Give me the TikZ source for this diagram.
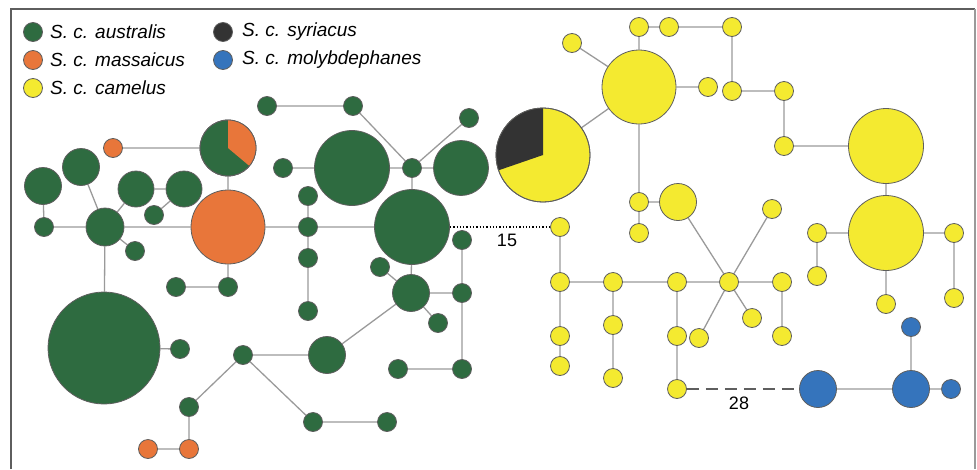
\documentclass[tikz,border=0pt]{standalone}
\usepackage{fontspec}
\setmainfont{Liberation Sans}
\usetikzlibrary{backgrounds}
\definecolor{grn}{HTML}{2E6B40}
\definecolor{org}{HTML}{E8763A}
\definecolor{yel}{HTML}{F4EA30}
\definecolor{blu}{HTML}{3574BC}
\definecolor{blk}{HTML}{333333}
\definecolor{outl}{HTML}{5E5E5E}
\definecolor{edg}{HTML}{9A9A9A}
\tikzset{
  hap/.style={circle, draw=outl, line width=0.8pt, inner sep=0pt, minimum size=#1},
  hap/.default=19,
  gn/.style={hap=#1, fill=grn}, gn/.default=19,
  on/.style={hap=#1, fill=org}, on/.default=19,
  yn/.style={hap=#1, fill=yel}, yn/.default=19,
  bn/.style={hap=#1, fill=blu}, bn/.default=19,
  kn/.style={hap=#1, fill=blk}, kn/.default=19,
  edge/.style={draw=edg, line width=1.3pt},
  legtext/.style={anchor=west, font=\fontsize{19}{22}\selectfont\itshape, inner sep=0pt},
  numlab/.style={font=\fontsize{18}{21}\selectfont, inner sep=0pt}
}
\begin{document}
\begin{tikzpicture}[x=1pt,y=-1pt]
\useasboundingbox (0,0) rectangle (977,469);
% frame
\draw[line width=2pt, color=outl] (11,469) -- (11,9) -- (975,9);
\draw[line width=1.5pt, color=edg] (975,9) -- (975,469);

% legend
\node[gn] (lg1) at (33,32) {};
\node[legtext] (lt1) at (50,32) {S. c. australis};
\node[on] (lg2) at (33,60) {};
\node[legtext] (lt2) at (50,60) {S. c. massaicus};
\node[yn] (lg3) at (33,88) {};
\node[legtext] (lt3) at (50,88) {S. c. camelus};
\node[kn] (lg4) at (223,32) {};
\node[legtext] (lt4) at (242,32) {S. c. syriacus};
\node[bn] (lg5) at (223,60) {};
\node[legtext] (lt5) at (242,60) {S. c. molybdephanes};

% green / orange part
\node[gn=37] (g1) at (43,186) {};
\node[gn=37] (g2) at (81,167) {};
\node[gn=36] (g3) at (136,189) {};
\node[gn=36] (g4) at (184,189) {};
\node[gn] (g5) at (154,215) {};
\node[gn] (g6) at (44,227) {};
\node[gn=38] (g7) at (105,227) {};
\node[gn] (g8) at (135,251) {};
\node[gn=112] (g9) at (104,348) {};
\node[gn] (g10) at (180,349) {};
\node[on=74] (om) at (228,227) {};
\node[gn=56] (pg) at (228,148) {};
\fill[org] (228,148) -- ++(-90:28) arc[start angle=-90, end angle=40, radius=28] -- cycle;
\draw[outl, line width=0.8pt] (228,148) circle[radius=28];
\node[on] (os) at (113,148) {};
\node[gn] (g11) at (176,287) {};
\node[gn] (g12) at (228,287) {};
\node[gn] (g13) at (267,106) {};
\node[gn] (g14) at (353,106) {};
\node[gn] (g15) at (469,118) {};
\node[gn] (g16) at (283,168) {};
\node[gn=75] (g17) at (352,168) {};
\node[gn] (g18) at (412,168) {};
\node[gn=55] (g19) at (461,168) {};
\node[gn=75] (g20) at (412,227) {};
\node[gn] (g21) at (308,196) {};
\node[gn] (g22) at (308,227) {};
\node[gn] (g23) at (308,258) {};
\node[gn] (g24) at (308,311) {};
\node[gn] (g25) at (462,240) {};
\node[gn] (g26) at (462,293) {};
\node[gn] (g27) at (462,369) {};
\node[gn] (g28) at (398,369) {};
\node[gn=37] (g29) at (411,293) {};
\node[gn] (g30) at (380,267) {};
\node[gn] (g31) at (438,323) {};
\node[gn=37] (g32) at (327,355) {};
\node[gn] (g33) at (243,355) {};
\node[gn] (g34) at (189,407) {};
\node[gn] (g35) at (313,422) {};
\node[gn] (g36) at (387,422) {};
\node[on] (o2) at (148,449) {};
\node[on] (o3) at (189,449) {};

% yellow / black / blue part
\node[yn=94] (yp) at (543,155) {};
\fill[blk] (543,155) -- ++(-90:47) arc[start angle=-90, end angle=-199, radius=47] -- cycle;
\draw[outl, line width=0.8pt] (543,155) circle[radius=47];
\node[yn=74] (y1) at (639,87) {};
\node[yn] (y2) at (572,43) {};
\node[yn] (y3) at (639,27) {};
\node[yn] (y4) at (669,27) {};
\node[yn] (y5) at (732,27) {};
\node[yn] (y6) at (708,87) {};
\node[yn] (y7) at (732,91) {};
\node[yn] (y8) at (784,91) {};
\node[yn] (y9) at (784,146) {};
\node[yn=75] (y10) at (886,146) {};
\node[yn=75] (y11) at (886,233) {};
\node[yn] (y12) at (817,233) {};
\node[yn] (y13) at (817,276) {};
\node[yn] (y14) at (954,233) {};
\node[yn] (y15) at (954,298) {};
\node[yn] (y16) at (886,304) {};
\node[yn] (y17) at (639,202) {};
\node[yn=37] (y18) at (678,202) {};
\node[yn] (y19) at (639,233) {};
\node[yn] (y20) at (560,227) {};
\node[yn] (y21) at (560,282) {};
\node[yn] (y22) at (613,282) {};
\node[yn] (y23) at (677,282) {};
\node[yn] (y24) at (729,282) {};
\node[yn] (y25) at (782,282) {};
\node[yn] (y26) at (772,209) {};
\node[yn] (y27) at (560,336) {};
\node[yn] (y28) at (560,366) {};
\node[yn] (y29) at (613,325) {};
\node[yn] (y30) at (613,378) {};
\node[yn] (y31) at (677,336) {};
\node[yn] (y32) at (677,389) {};
\node[yn] (y33) at (699,338) {};
\node[yn] (y34) at (752,318) {};
\node[yn] (y35) at (782,336) {};
\node[bn=37] (b1) at (818,389) {};
\node[bn=37] (b2) at (911,389) {};
\node[bn] (b3) at (911,327) {};
\node[bn] (b4) at (951,389) {};

% labels
\node[numlab] (l15) at (507,240) {15};
\node[numlab] (l28) at (739,403) {28};

\begin{pgfonlayer}{background}
\path[edge]
  (os) -- (pg) (pg) -- (om) (g1) -- (g6) (g2) -- (g7) (g6) -- (g7) (g7) -- (om)
  (g7) -- (g3) (g3) -- (g4) (g5) -- (g4) (g7) -- (g8) (g7) -- (g9) (g9) -- (g10)
  (om) -- (g12) (g11) -- (g12) (om) -- (g22) (g22) -- (g20) (g21) -- (g22)
  (g22) -- (g23) (g23) -- (g24) (g16) -- (g17) (g17) -- (g18) (g18) -- (g19)
  (g18) -- (g20) (g13) -- (g14) (g14) -- (g18) (g15) -- (g18) (g20) -- (g29)
  (g29) -- (g26) (g25) -- (g26) (g26) -- (g27) (g28) -- (g27) (g30) -- (g29)
  (g31) -- (g29) (g29) -- (g32) (g32) -- (g33) (g33) -- (g34) (g33) -- (g35)
  (g35) -- (g36) (g34) -- (o3) (o2) -- (o3);
\path[edge]
  (yp) -- (y1) (y2) -- (y1) (y3) -- (y1) (y3) -- (y4) (y4) -- (y5) (y5) -- (y7)
  (y6) -- (y1) (y7) -- (y8) (y8) -- (y9) (y9) -- (y10) (y10) -- (y11)
  (y12) -- (y11) (y12) -- (y13) (y11) -- (y14) (y14) -- (y15) (y11) -- (y16)
  (y1) -- (y17) (y17) -- (y18) (y17) -- (y19) (y18) -- (y24) (y26) -- (y24)
  (y20) -- (y21) (y21) -- (y22) (y22) -- (y23) (y23) -- (y24) (y24) -- (y25)
  (y21) -- (y27) (y27) -- (y28) (y22) -- (y29) (y29) -- (y30) (y23) -- (y31)
  (y31) -- (y32) (y33) -- (y24) (y34) -- (y24) (y25) -- (y35)
  (b1) -- (b2) (b2) -- (b3) (b2) -- (b4);
\draw[black, line width=1.3pt, dotted] (g20.east) -- (y20.west);
\draw[outl, line width=2pt, dash pattern=on 12pt off 7pt] (y32) -- (b1);
\end{pgfonlayer}
\end{tikzpicture}
\end{document}
